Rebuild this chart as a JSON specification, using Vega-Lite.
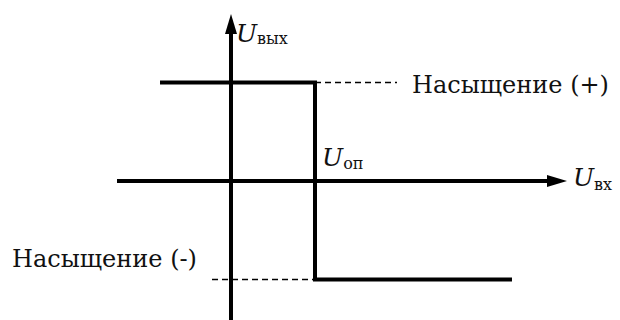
{
  "$schema": "https://vega.github.io/schema/vega-lite/v6.json",
  "width": 620,
  "height": 320,
  "autosize": "none",
  "padding": 0,
  "background": "white",
  "config": {"view": {"stroke": null}},
  "datasets": {
    "solid": [
      {"id": "haxis", "o": 1, "x": -1.357, "y": 0},
      {"id": "haxis", "o": 2, "x": 3.8, "y": 0},
      {"id": "vaxis", "o": 1, "x": 0, "y": -1.42},
      {"id": "vaxis", "o": 2, "x": 0, "y": 1.5},
      {"id": "curve", "o": 1, "x": -0.845, "y": 1},
      {"id": "curve", "o": 2, "x": 1, "y": 1},
      {"id": "curve", "o": 3, "x": 1, "y": -1},
      {"id": "curve", "o": 4, "x": 3.345, "y": -1}
    ],
    "dashed": [
      {"id": "up", "o": 1, "x": 1, "y": 1},
      {"id": "up", "o": 2, "x": 1.976, "y": 1},
      {"id": "down", "o": 1, "x": -0.226, "y": -1},
      {"id": "down", "o": 2, "x": 1, "y": -1}
    ],
    "arrows": [
      {"dir": "right", "x": 3.881, "y": 0},
      {"dir": "up", "x": 0, "y": 1.594}
    ],
    "labels": [
      {"label": "Насыщение (+)", "x": 2.155, "y": 0.893},
      {"label": "Насыщение (-)", "x": -2.607, "y": -0.873}
    ],
    "symbols": [
      {"label": "U", "x": 0.06, "y": 1.411},
      {"label": "U", "x": 1.083, "y": 0.152},
      {"label": "U", "x": 4.071, "y": -0.051}
    ],
    "subs": [
      {"label": "вых", "x": 0.31, "y": 1.391},
      {"label": "оп", "x": 1.335, "y": 0.122},
      {"label": "вх", "x": 4.32, "y": -0.091}
    ]
  },
  "encoding": {
    "x": {"field": "x", "type": "quantitative", "scale": {"domain": [-2.75, 4.631], "nice": false, "zero": false}, "axis": null},
    "y": {"field": "y", "type": "quantitative", "scale": {"domain": [-1.4112, 1.8376], "nice": false, "zero": false}, "axis": null}
  },
  "layer": [
    {
      "data": {"name": "solid"},
      "mark": {"type": "line", "color": "black", "strokeWidth": 4, "strokeCap": "butt", "strokeJoin": "miter"},
      "encoding": {"detail": {"field": "id"}, "order": {"field": "o"}}
    },
    {
      "data": {"name": "dashed"},
      "mark": {"type": "line", "color": "black", "strokeWidth": 1.5, "strokeDash": [6, 4]},
      "encoding": {"detail": {"field": "id"}, "order": {"field": "o"}}
    },
    {
      "data": {"name": "arrows"},
      "transform": [{"filter": "datum.dir == 'right'"}],
      "mark": {"type": "point", "filled": true, "color": "black", "opacity": 1, "size": 400, "shape": "M1,0L-1,-0.6L-1,0.6Z"}
    },
    {
      "data": {"name": "arrows"},
      "transform": [{"filter": "datum.dir == 'up'"}],
      "mark": {"type": "point", "filled": true, "color": "black", "opacity": 1, "size": 400, "shape": "M0,-1L0.6,1L-0.6,1Z"}
    },
    {
      "data": {"name": "labels"},
      "mark": {"type": "text", "font": "DejaVu Serif", "fontSize": 24, "align": "left", "baseline": "alphabetic", "color": "#111"},
      "encoding": {"text": {"field": "label"}}
    },
    {
      "data": {"name": "symbols"},
      "mark": {"type": "text", "font": "DejaVu Serif", "fontSize": 25, "fontStyle": "italic", "align": "left", "baseline": "alphabetic", "color": "#111"},
      "encoding": {"text": {"field": "label"}}
    },
    {
      "data": {"name": "subs"},
      "mark": {"type": "text", "font": "DejaVu Serif", "fontSize": 16, "align": "left", "baseline": "alphabetic", "color": "#111"},
      "encoding": {"text": {"field": "label"}}
    }
  ]
}
